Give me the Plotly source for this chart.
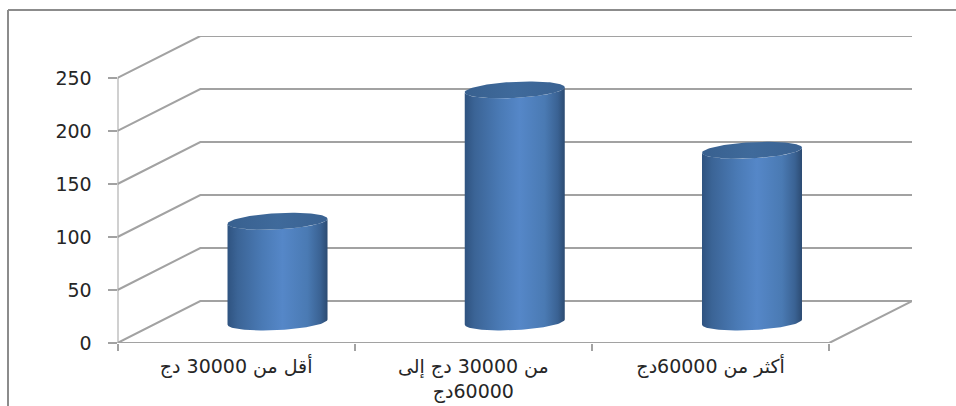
import numpy as np
import plotly.graph_objects as go

# Chart data
categories = ["أقل من 30000 دج", "من 30000 دج إلى<br>\u200f60000دج", "أكثر من 60000دج"]
values = [95, 219, 162]
y_ticks = [0, 50, 100, 150, 200, 250]

# Oblique projection of the 3D box, in axis units
DEPTH_X = 0.349
DEPTH_Y = 39.6
X_MAX = 3 + DEPTH_X
Y_MAX = 250 + DEPTH_Y

# Cylinder cross-section
RADIUS_X = 0.2108
TILT_Y = 2.4
RADIUS_Y = 7.6

GRID = "#a2a2a2"
TEXT = "#262626"
BODY_SCALE = [[0, "#2f5380"], [0.1, "#3b6496"], [0.35, "#4a7ab5"], [0.55, "#5587c8"],
              [0.8, "#4a7ab3"], [0.93, "#3a6293"], [1, "#2c4b72"]]
CAP_SCALE = [[0, "#38608f"], [0.5, "#3f6a9b"], [1, "#3a6292"]]


def ring(cx, cy, t):
    return (cx + RADIUS_X * np.cos(t),
            cy + TILT_Y * np.cos(t) + RADIUS_Y * np.sin(t))


fig = go.Figure()

# Walls and floor of the box
wall_x, wall_y = [], []
for v in y_ticks:
    wall_x += [0, DEPTH_X, 3 + DEPTH_X, None]
    wall_y += [v, v + DEPTH_Y, v + DEPTH_Y, None]
wall_x += [0, 0, None, 0, 3, 3 + DEPTH_X]
wall_y += [0, 250, None, 0, 0, DEPTH_Y]
fig.add_trace(go.Scatter(x=wall_x, y=wall_y, mode="lines", hoverinfo="skip",
                         line=dict(color=GRID, width=2), cliponaxis=False))

# One cylinder per category
for i, v in enumerate(values):
    cx = i + 0.5 + DEPTH_X / 2
    base = DEPTH_Y / 2
    top = base + v

    front = np.linspace(np.pi, 2 * np.pi, 60)
    bx, by = ring(cx, base, front)
    tx, ty = ring(cx, top, front[::-1])
    fig.add_trace(go.Scatter(
        x=np.r_[bx, tx], y=np.r_[by, ty], mode="lines", fill="toself",
        line=dict(width=0, color="rgba(0,0,0,0)"), hoverinfo="skip",
        fillgradient=dict(type="horizontal", colorscale=BODY_SCALE)))

    whole = np.linspace(0, 2 * np.pi, 120)
    ex, ey = ring(cx, top, whole)
    fig.add_trace(go.Scatter(
        x=ex, y=ey, mode="lines", fill="toself",
        line=dict(width=0, color="rgba(0,0,0,0)"), hoverinfo="skip",
        fillgradient=dict(type="horizontal", colorscale=CAP_SCALE)))

W, H = 956, 406
fig.update_layout(
    width=W, height=H, autosize=False, showlegend=False,
    margin=dict(l=0, r=0, t=0, b=0),
    paper_bgcolor="white", plot_bgcolor="white",
    font=dict(family="DejaVu Sans", color=TEXT, size=19),
    xaxis=dict(
        automargin=False,
        domain=[117.5 / W, 912 / W], range=[0, X_MAX], showgrid=False, zeroline=False,
        showline=False, tickmode="array", tickvals=[0.5, 1.5, 2.5], ticktext=categories,
        ticks="", tickangle=0, ticklabelstandoff=10, tickfont=dict(size=19),
        minor=dict(tickmode="array", tickvals=[0, 1, 2, 3], ticks="outside",
                   ticklen=7, tickwidth=2, tickcolor=GRID, showgrid=False),
    ),
    yaxis=dict(
        automargin=False,
        domain=[(H - 343) / H, (H - 36) / H], range=[0, Y_MAX], showgrid=False, zeroline=False,
        showline=False, tickmode="array", tickvals=y_ticks, ticks="outside",
        ticklen=9, tickwidth=2, tickcolor=GRID, ticklabelstandoff=12,
    ),
    # Outer chart frame
    shapes=[dict(type="line", xref="paper", yref="paper", x0=8 / W, x1=8 / W,
                 y0=0, y1=1 - 10 / H, line=dict(color="#8c8c8c", width=2)),
            dict(type="line", xref="paper", yref="paper", x0=8 / W, x1=1,
                 y0=1 - 10 / H, y1=1 - 10 / H, line=dict(color="#8c8c8c", width=2))],
)

fig.write_html("out.html")
